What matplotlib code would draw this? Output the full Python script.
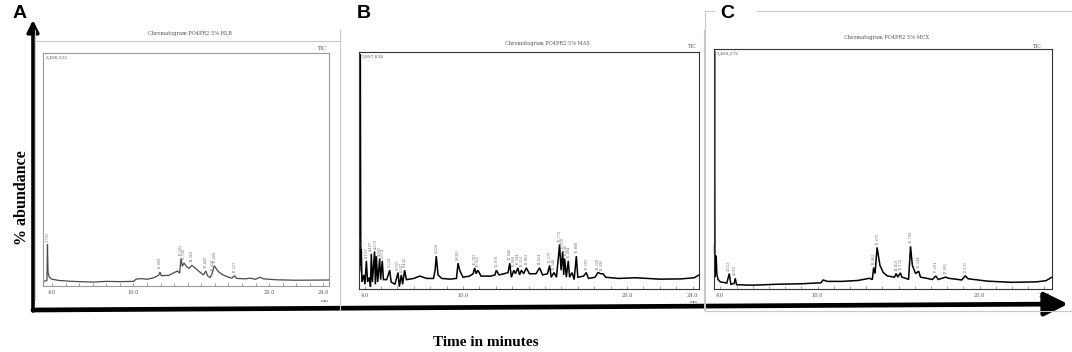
import matplotlib
matplotlib.use("Agg")
import matplotlib.pyplot as plt
from matplotlib.lines import Line2D
from matplotlib.patches import FancyArrowPatch

W, H = 1072, 352

# ---- data (time in min, intensity in % of full scale)
a_time = [3.33, 3.55, 3.62, 3.66, 3.70, 3.78, 3.95, 4.5, 5.5, 7.0, 8.0, 9.0, 10.0, 10.2, 10.6,
          11.0, 11.5, 11.85, 11.95, 12.05, 12.6, 13.0, 13.25, 13.40, 13.50, 13.60, 13.72,
          13.9, 14.1, 14.30, 14.6, 14.9, 15.15, 15.33, 15.45, 15.65, 15.80, 15.95, 16.1,
          16.3, 16.6, 17.0, 17.25, 17.45, 17.6, 18.2, 18.6, 19.0, 19.3, 19.6, 20.5, 22.0, 24.41]
a_int = [2.0, 2.2, 2.5, 18.0, 6.0, 4.0, 3.0, 2.4, 2.0, 1.7, 2.0, 1.9, 2.0, 3.0, 3.2,
         2.9, 3.6, 4.6, 6.0, 4.5, 4.6, 5.8, 6.5, 5.5, 12.0, 8.5, 10.0,
         8.5, 7.6, 9.0, 7.5, 6.0, 4.8, 6.5, 4.5, 3.6, 5.5, 8.8, 7.5,
         6.0, 4.8, 3.8, 3.4, 4.5, 3.3, 3.1, 3.4, 2.9, 3.8, 3.1, 2.7, 2.5, 2.6]
a_peaks = [3.66, 11.95, 13.50, 13.72, 14.30, 15.33, 15.80, 15.95, 17.45]
a_peak_int = [18.0, 6.0, 12.0, 10.0, 9.0, 6.5, 5.5, 8.8, 4.5]
a_labels = ["3.705", "12.009", "13.565", "13.736", "14.363", "15.403", "15.929", "16.209", "17.527"]

b_time = [3.66, 3.71, 3.74, 3.77, 3.80, 3.84, 3.95, 4.02, 4.11, 4.18, 4.30, 4.36, 4.41, 4.48,
          4.61, 4.66, 4.72, 4.80, 4.92, 4.98, 5.08, 5.15, 5.35, 5.53, 5.62, 5.85, 6.04, 6.12,
          6.24, 6.32, 6.44, 6.55, 7.0, 7.36, 7.8, 8.2, 8.3, 8.37, 8.48, 8.7, 9.2, 9.6, 9.70,
          9.8, 10.0, 10.4, 10.62, 10.71, 10.8, 10.91, 11.1, 11.7, 11.95, 12.03, 12.2, 12.5,
          12.75, 12.85, 12.95, 13.1, 13.2, 13.35, 13.45, 13.56, 13.7, 13.86, 14.05, 14.45,
          14.67, 14.85, 15.15, 15.28, 15.38, 15.55, 15.7, 15.89, 15.98, 16.08, 16.14, 16.20,
          16.3, 16.42, 16.5, 16.65, 16.78, 16.91, 17.0, 17.35, 17.52, 17.65, 18.05, 18.23,
          18.4, 18.54, 18.7, 19.5, 20.5, 22.0, 23.3, 24.1, 24.39]
b_int = [6, 8, 100, 10, 17, 3, 6, 2, 12, 3, 5, 1, 15, 3,
         16, 2, 14, 3, 13, 4, 12, 4, 4, 8, 3, 2, 7, 1,
         6, 2, 8, 4, 4.5, 5.5, 4.5, 4.5, 8, 14, 6, 4.5, 4.2, 4.5, 11,
         8, 5, 5.5, 6.5, 9, 6.5, 8, 5.5, 5.5, 6, 8, 6, 6.5,
         7, 11, 5, 8, 6.5, 9, 6, 8, 6.5, 9, 6.5, 6.5,
         9, 6, 6.5, 10, 5, 7, 5, 19, 8, 16, 6, 13,
         5, 12, 5, 7, 4, 14, 5, 5.5, 7, 4.5, 5, 7,
         6.5, 6.5, 5, 4.5, 4.8, 4.2, 4.3, 4.8, 6]
b_peaks = [3.80, 4.11, 4.41, 4.66, 4.92, 5.10, 5.53, 6.04, 6.24, 6.44, 8.37, 9.70,
           10.71, 10.91, 12.03, 12.85, 13.10, 13.35, 13.56, 13.86, 14.67, 15.28, 15.55,
           15.89, 16.08, 16.25, 16.42, 16.91, 17.52, 18.23, 18.42]
b_peak_int = [17, 12, 15, 16, 13, 12, 8, 7, 6, 8, 14, 11,
              9, 8, 8, 11, 8, 9, 8, 9, 9, 10, 7,
              19, 16, 13, 12, 14, 7, 7, 6.5]
b_labels = ["3.821", "4.133", "4.407", "4.673", "4.902", "5.074", "5.524", "6.031",
            "6.247", "6.436", "8.220", "9.693", "10.702", "10.925", "12.018", "12.840",
            "13.092", "13.344", "13.551", "13.862", "14.654", "15.272", "15.548", "15.772",
            "16.070", "16.190", "16.404", "16.808", "17.507", "18.228", "18.396"]

c_time = [3.61, 3.64, 3.67, 3.70, 3.74, 3.79, 3.86, 4.0, 4.4, 4.553, 4.65, 4.85, 4.923, 5.0,
          6.0, 7.5, 9.0, 10.2, 10.35, 10.6, 11.5, 12.5, 13.2, 13.38, 13.462, 13.55, 13.675,
          13.85, 14.05, 14.3, 14.75, 14.853, 14.95, 15.112, 15.2, 15.45, 15.62, 15.739,
          15.85, 16.05, 16.244, 16.35, 17.1, 17.291, 17.45, 17.905, 18.1, 18.9, 19.115,
          19.3, 20.5, 22.0, 23.5, 24.1, 24.47]
c_int = [4, 100, 5, 8, 14, 6, 4, 3, 2.5, 6.5, 2.0, 2.3, 4.5, 1.8,
         1.6, 2.0, 2.2, 2.6, 3.8, 3.2, 3.2, 3.6, 4.5, 4.0, 9.0, 6.5, 17.5,
         10, 7, 5.5, 5.0, 6.5, 5.0, 6.8, 5.0, 4.5, 4.0, 18,
         10, 6.5, 7.5, 5.0, 4.0, 5.5, 4.0, 5.0, 4.5, 3.8, 5.5,
         4.3, 3.3, 2.8, 3.0, 3.5, 5.0]
c_peaks = [3.74, 4.553, 4.923, 13.462, 13.675, 14.853, 15.112, 15.739, 16.244, 17.291, 17.905, 19.115]
c_peak_int = [14, 6.5, 4.5, 9.0, 17.5, 6.5, 6.8, 18, 7.5, 5.5, 5.0, 5.5]
c_labels = ["3.787", "4.553", "4.923", "13.462", "13.675", "14.853", "15.112", "15.739",
            "16.244", "17.291", "17.905", "19.115"]

tick_pos = [4, 10, 20, 24]
tick_lab = ["4.0", "10.0", "20.0", "24.0"]


def box(l, t, r, b):
    return [l / W, 1 - b / H, (r - l) / W, (b - t) / H]


fig = plt.figure(figsize=(W / 100, H / 100), dpi=100)


def chrom(rect, xlim, t, y, pk, pk_y, labs, maxlab, lc, lw, ec):
    ax = fig.add_axes(rect)
    ax.plot(t, y, color=lc, lw=lw, solid_joinstyle="miter")
    for x0, y0, s in zip(pk, pk_y, labs):
        ax.text(x0, y0 + 1.2, s, rotation=90, fontsize=2.5, color="#666",
                ha="center", va="bottom", family="DejaVu Serif")
    ax.text(0.008, 0.99, maxlab, transform=ax.transAxes, fontsize=3.2,
            color="#555", va="top", family="DejaVu Serif")
    ax.set_xlim(*xlim)
    ax.set_ylim(0, 101)
    ax.set_yticks([])
    ax.set_xticks(tick_pos)
    ax.set_xticklabels(tick_lab, fontsize=3.6, color="#555", family="DejaVu Serif")
    ax.set_xticks(range(5, 24), minor=True)
    ax.tick_params(axis="x", which="both", direction="in", length=2, width=0.5,
                   color="#777", pad=3)
    for s in ax.spines.values():
        s.set_color(ec)
        s.set_linewidth(0.8)
    return ax


chrom(box(43, 53, 329, 286), (3.33, 24.41), a_time, a_int, a_peaks, a_peak_int, a_labels,
      "2,498,522", "#4a4a4a", 0.9, "#9a9a9a")
chrom(box(359, 52, 699, 289), (3.66, 24.39), b_time, b_int, b_peaks, b_peak_int, b_labels,
      "3,897,834", "#000", 1.1, "#333")
chrom(box(714, 49, 1052, 289), (3.61, 24.47), c_time, c_int, c_peaks, c_peak_int, c_labels,
      "2,409,272", "#000", 1.1, "#333")

# overlay in pixel coordinates for frames, arrows and labels
ov = fig.add_axes([0, 0, 1, 1], zorder=10)
ov.set_xlim(0, W)
ov.set_ylim(H, 0)
ov.axis("off")
ov.patch.set_alpha(0)

frame = dict(color="#c8c8c8", lw=0.8)
ov.add_line(Line2D([35, 35], [30, 300], **frame))
ov.add_line(Line2D([35, 340], [41, 41], **frame))
ov.add_line(Line2D([340, 340], [30, 310], **frame))
ov.add_line(Line2D([704, 704], [30, 310], **frame))
ov.add_line(Line2D([705, 705], [11, 311], **frame))
ov.add_line(Line2D([705, 714], [11, 11], **frame))
ov.add_line(Line2D([757, 1072], [11, 11], **frame))
ov.add_line(Line2D([705, 1072], [311, 311], **frame))

for x, y, s in [(190, 33, "Chromatogram PO4PR2 5% HLB"),
                (547, 43, "Chromatogram PO4PR2 5% MAS"),
                (887, 38, "Chromatogram PO4PR2 5% MCX")]:
    ov.text(x, y, s, fontsize=3.6, color="#555", ha="center", va="center", family="DejaVu Serif")
for x, y in [(322, 48), (692, 47), (1037, 46)]:
    ov.text(x, y, "TIC", fontsize=3.4, color="#555", ha="center", va="center", family="DejaVu Serif")
for x, y in [(325, 301), (694, 302)]:
    ov.text(x, y, "min", fontsize=3.0, color="#666", ha="center", va="center", family="DejaVu Serif")

ov.add_patch(FancyArrowPatch((33, 311), (33, 20), arrowstyle="-|>,head_length=0.5,head_width=0.25",
                             mutation_scale=14, lw=2.6, color="black", shrinkA=0, shrinkB=0))
ov.add_patch(FancyArrowPatch((33, 310), (1068, 304), arrowstyle="-|>,head_length=0.9,head_width=0.45",
                             mutation_scale=16, lw=3.4, color="black", shrinkA=0, shrinkB=0))

for x, s in [(20, "A"), (364, "B"), (727, "C")]:
    ov.text(x, 14, s, fontsize=14, fontweight="bold", ha="center", va="center",
            family="Liberation Sans")

ov.text(22, 198, "% abundance", rotation=90, fontsize=11.5, fontweight="bold",
        ha="center", va="center", family="Liberation Serif")
ov.text(486, 342, "Time in minutes", fontsize=11, fontweight="bold",
        ha="center", va="center", family="Liberation Serif")

fig.savefig("out.png", dpi=100)
